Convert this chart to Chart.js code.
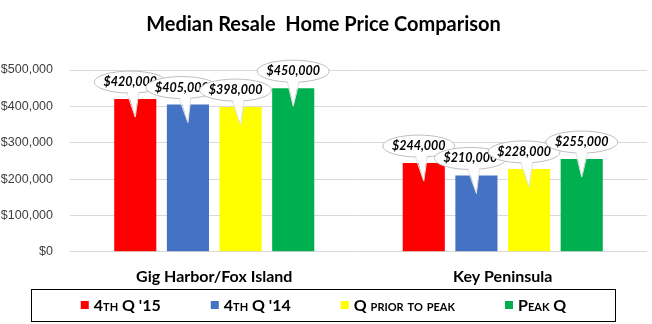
<!DOCTYPE html>
<html>
<head>
<meta charset="utf-8">
<script src="https://cdn.jsdelivr.net/npm/chart.js@4/dist/chart.umd.min.js"></script>
<style>
  html, body { margin: 0; padding: 0; background: #fff; }
  #wrap { width: 652px; height: 324px; position: relative; }
</style>
</head>
<body>
<div id="wrap"><canvas id="priceChart"></canvas></div>
<script>
// Chart data
const categories = ['Gig Harbor/Fox Island', 'Key Peninsula'];
const seriesNames = ["4th Q '15", "4th Q '14", 'Q prior to peak', 'Peak Q'];
const q4of2015 = [420000, 244000];
const q4of2014 = [405000, 210000];
const qPriorToPeak = [398000, 228000];
const peakQ = [450000, 255000];
const yTickValues = [0, 100000, 200000, 300000, 400000, 500000];

const seriesColors = ['#ff0000', '#4472c4', '#ffff00', '#00b050'];
const calloutShift = [-5, -6, -5, 0];

function money(v) {
    return '$' + v.toLocaleString('en-US');
}

// Speech-bubble labels above each bar
const calloutPlugin = {
    id: 'callouts',
    afterDatasetsDraw(chart) {
        const ctx = chart.ctx;
        chart.data.datasets.forEach((ds, i) => {
            const meta = chart.getDatasetMeta(i);
            meta.data.forEach((bar, j) => {
                const x = bar.x, top = bar.y;
                const cx = x + calloutShift[i], cy = top - 17;
                ctx.save();
                // bubble
                ctx.beginPath();
                ctx.ellipse(cx, cy, 36, 11, 0, 0, Math.PI * 2);
                ctx.fillStyle = '#fff';
                ctx.fill();
                ctx.strokeStyle = '#bfbfbf';
                ctx.lineWidth = 1;
                ctx.stroke();
                // tail
                const bx = (x + cx) / 2;
                ctx.beginPath();
                ctx.moveTo(bx - 6, cy + 7);
                ctx.lineTo(x, top + 18);
                ctx.lineTo(bx + 6, cy + 7);
                ctx.closePath();
                ctx.fill();
                ctx.beginPath();
                ctx.moveTo(bx - 6, cy + 10.5);
                ctx.lineTo(x, top + 18);
                ctx.lineTo(bx + 6, cy + 10.5);
                ctx.strokeStyle = '#e2e2e2';
                ctx.stroke();
                // text
                ctx.fillStyle = '#000';
                ctx.font = 'italic bold 12.5px Lato';
                ctx.textAlign = 'center';
                ctx.textBaseline = 'middle';
                ctx.fillText(money(ds.data[j]), cx, cy);
                ctx.restore();
            });
        });
    }
};

// Boxed legend with small caps
const boxLegendPlugin = {
    id: 'boxLegend',
    afterDraw(chart) {
        const ctx = chart.ctx;
        ctx.save();
        ctx.strokeStyle = '#000';
        ctx.lineWidth = 1;
        ctx.strokeRect(31.5, 289.5, 584, 32);

        ctx.font = 'small-caps bold 16px Lato';
        ctx.textBaseline = 'middle';
        ctx.textAlign = 'left';
        const sq = 8, gapText = 5, gapItem = 50;
        const widths = chart.data.datasets.map(ds => sq + gapText + ctx.measureText(ds.label).width);
        const total = widths.reduce((a, b) => a + b, 0) + gapItem * (widths.length - 1);
        let x = 323.5 - total / 2;
        const y = 305;
        chart.data.datasets.forEach((ds, i) => {
            ctx.fillStyle = ds.backgroundColor;
            ctx.fillRect(x, y - sq / 2, sq, sq);
            ctx.fillStyle = '#000';
            ctx.fillText(ds.label, x + sq + gapText, y + 1);
            x += widths[i] + gapItem;
        });
        ctx.restore();
    }
};

const seriesValues = [q4of2015, q4of2014, qPriorToPeak, peakQ];

const chart = new Chart(document.getElementById('priceChart').getContext('2d'), {
    type: 'bar',
    data: {
        labels: categories,
        datasets: seriesValues.map((vals, i) => ({
            label: seriesNames[i],
            data: vals,
            backgroundColor: seriesColors[i],
            categoryPercentage: 0.73,
            barPercentage: 0.8
        }))
    },
    options: {
        responsive: true,
        maintainAspectRatio: false,
        animation: false,
        events: [],
        layout: {
            padding: { left: 0, right: 5, top: 0, bottom: 31 }
        },
        plugins: {
            legend: { display: false },
            tooltip: { enabled: false },
            title: {
                display: true,
                text: 'Median Resale  Home Price Comparison',
                color: '#000',
                font: { family: 'Lato', size: 20, weight: 'bold' },
                padding: { top: 13, bottom: 33 }
            }
        },
        scales: {
            x: {
                grid: { display: false },
                border: { display: false },
                ticks: {
                    color: '#000',
                    padding: 7,
                    font: { family: 'Lato', size: 16, weight: 'bold' }
                }
            },
            y: {
                min: 0,
                max: 500000,
                afterBuildTicks: axis => {
                    axis.ticks = yTickValues.map(v => ({ value: v }));
                },
                afterFit: axis => { axis.width = 70; },
                grid: { color: '#d9d9d9', drawTicks: false },
                border: { display: false },
                ticks: {
                    color: '#404040',
                    padding: 17,
                    font: { family: 'Liberation Sans', size: 12.5 },
                    callback: v => money(v)
                }
            }
        }
    },
    plugins: [calloutPlugin, boxLegendPlugin]
});
</script>
</body>
</html>
